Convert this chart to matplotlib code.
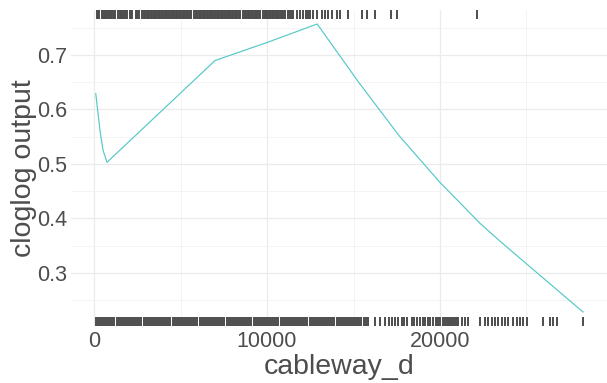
# Response curve for cableway_d (cloglog output) with rug of background / presence points
import matplotlib
matplotlib.use("Agg")
import matplotlib.pyplot as plt
import matplotlib.transforms as mtransforms

plt.rcParams['font.family'] = ['Liberation Sans', 'DejaVu Sans']

# response curve
curve_x = [100, 350, 520, 750, 7000, 10000, 12900, 15320, 17630, 20000,
           22310, 23470, 25610, 28270]
curve_y = [0.629, 0.560, 0.525, 0.503, 0.690, 0.723, 0.757, 0.649, 0.552,
           0.466, 0.391, 0.358, 0.300, 0.228]

# presence points (top rug)
presence_x = [170, 250, 310, 450, 530, 610, 690, 820, 900, 980, 1060, 1140, 1220,
              1400, 1480, 1560, 1640, 1720, 1800, 1880, 2050, 2130, 2210, 2420,
              2500, 2580, 2800, 2880, 2960, 3040, 3120, 3200, 3280, 3360, 3440,
              3520, 3600, 3680, 3760, 3840, 3920, 4000, 4080, 4160, 4240, 4320,
              4400, 4480, 4560, 4640, 4720, 4800, 4880, 4960, 5040, 5120, 5200,
              5280, 5360, 5440, 5520, 5600, 5800, 5880, 5960, 6040, 6120, 6200,
              6280, 6360, 6440, 6520, 6600, 6680, 6760, 6840, 6920, 7000, 7080,
              7160, 7240, 7320, 7400, 7480, 7560, 7640, 7720, 7800, 7880, 7960,
              8040, 8120, 8200, 8280, 8360, 8440, 8640, 8720, 8800, 8880, 8960,
              9040, 9120, 9200, 9280, 9360, 9440, 9520, 9600, 9780, 9860, 9940,
              10020, 10100, 10180, 10260, 10340, 10420, 10500, 10600, 10655, 10750,
              10850, 10950, 11040, 11233, 11330, 11420, 11500, 11753, 11908, 12100,
              12230, 12360, 12480, 12677, 12870, 13160, 13353, 13545, 13738, 14027,
              14220, 14700, 15490, 15780, 16240, 17170, 17510, 22140]

# background points (bottom rug)
background_x = [100, 220, 340, 460, 580, 700, 820, 940, 1060, 1180, 1300, 1420,
                1540, 1660, 1780, 1900, 2020, 2140, 2260, 2380, 2500, 2620, 2740,
                2860, 2980, 3100, 3220, 3340, 3460, 3580, 3700, 3820, 3940, 4060,
                4180, 4300, 4420, 4540, 4660, 4780, 4900, 5020, 5140, 5260, 5380,
                5500, 5620, 5740, 5860, 5980, 6100, 6220, 6340, 6460, 6580, 6700,
                6820, 6940, 7060, 7180, 7300, 7420, 7540, 7660, 7780, 7900, 8020,
                8140, 8260, 8380, 8500, 8620, 8740, 8860, 8980, 9100, 9220, 9340,
                9460, 9580, 9700, 9820, 9940, 10060, 10180, 10300, 10420, 10540,
                10660, 10780, 10900, 11020, 11140, 11260, 11380, 11500, 11620,
                11740, 11860, 11980, 12100, 12220, 12340, 12460, 12580, 12700,
                12820, 12940, 13060, 13180, 13300, 13420, 13540, 13660, 13780,
                13900, 14020, 14140, 14260, 14380, 14500, 14620, 14740, 14860,
                14980, 15100, 15220, 15340, 15460, 15580, 15700, 15840,
                16240, 16530, 16820, 17070, 17200, 17400, 17590, 17790, 17920,
                18070, 18360, 18500, 18650, 18840, 19000, 19150, 19300, 19450,
                19600, 19750, 19900, 20000, 20190, 20300, 20400, 20500, 20600,
                20700, 20800, 20900, 21060, 21250, 21450, 21640, 22310, 22600,
                22790, 22980, 23180, 23370, 23560, 23760, 23950, 24240, 24430,
                24620, 24820, 25010, 25970, 26360, 26550, 26740, 28280]

x_ticks = [0, 10000, 20000]
y_ticks = [0.3, 0.4, 0.5, 0.6, 0.7]

fig = plt.figure(figsize=(6.07, 3.83), dpi=100)
ax = fig.add_axes([71.4 / 607, 1 - 326.4 / 383, 536.2 / 607, 316.8 / 383])

ax.plot(curve_x, curve_y, color='#55C8C8', lw=0.85, zorder=3)

trans = mtransforms.blended_transform_factory(ax.transData, ax.transAxes)
ax.vlines(presence_x, 0.97, 1.0, transform=trans, color='#4D4D4D', lw=1.4, zorder=2)
ax.vlines(background_x, 0.0, 0.03, transform=trans, color='#4D4D4D', lw=1.4, zorder=2)

# ggplot-like expansion of 5%
xr = max(max(background_x), max(curve_x)) - min(curve_x)
ax.set_xlim(min(curve_x) - 0.05 * xr, max(background_x) + 0.05 * xr)
yr = max(curve_y) - min(curve_y)
ax.set_ylim(min(curve_y) - 0.05 * yr, max(curve_y) + 0.05 * yr)

ax.set_xticks(x_ticks)
ax.set_xticks([5000, 15000, 25000], minor=True)
ax.set_yticks(y_ticks)
ax.set_yticks([0.25, 0.35, 0.45, 0.55, 0.65, 0.75], minor=True)
ax.set_yticklabels([f"{v:.1f}" for v in y_ticks])

ax.grid(which='major', color='#EBEBEB', lw=0.9)
ax.grid(which='minor', color='#F2F2F2', lw=0.6)
ax.set_axisbelow(True)
for s in ax.spines.values():
    s.set_visible(False)
ax.tick_params(which='both', length=0, labelsize=15.5, labelcolor='#4D4D4D', pad=3)

ax.set_xlabel('cableway_d', fontsize=20.5, color='#4D4D4D', labelpad=2)
ax.set_ylabel('cloglog output', fontsize=20.5, color='#4D4D4D', labelpad=0)

fig.savefig('out.png', dpi=100)
